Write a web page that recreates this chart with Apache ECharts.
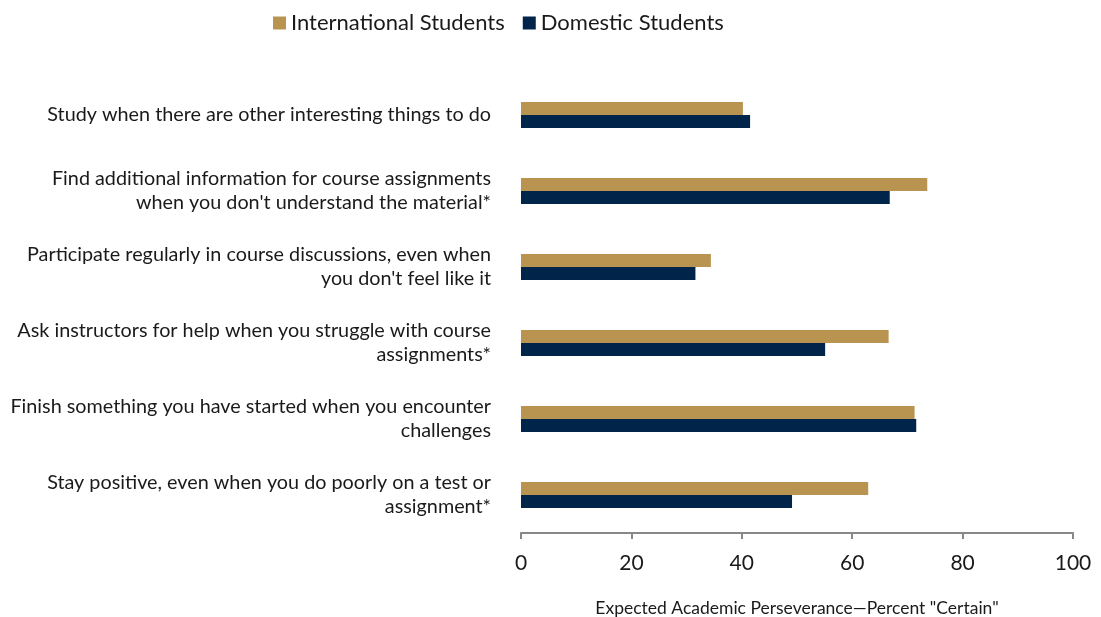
<!DOCTYPE html>
<html>
<head>
<meta charset="utf-8">
<title>Expected Academic Perseverance</title>
<script src="https://cdn.jsdelivr.net/npm/echarts@6/dist/echarts.min.js"></script>
<style>
  html, body { margin: 0; padding: 0; background: #fff; }
  #chart { width: 1101px; height: 617px; }
</style>
</head>
<body>
<div id="chart"></div>
<script>
// categories, top to bottom
var categories = [
  'Study when there are other interesting things to do',
  'Find additional information for course assignments\nwhen you don\'t understand the material*',
  'Participate regularly in course discussions, even when\nyou don\'t feel like it',
  'Ask instructors for help when you struggle with course\nassignments*',
  'Finish something you have started when you encounter\nchallenges',
  'Stay positive, even when you do poorly on a test or\nassignment*'
];
var international = [40.2, 73.6, 34.4, 66.6, 71.3, 62.9];
var domestic = [41.5, 66.8, 31.6, 55.1, 71.6, 49.1];
var xTicks = [0, 20, 40, 60, 80, 100];

var myChart = echarts.init(document.getElementById('chart'));
var font = 'Lato, "Open Sans", sans-serif';

var option = {
  animation: false,
  textStyle: { fontFamily: font },
  legend: {
    top: 7,
    left: 268,
    itemWidth: 13,
    itemHeight: 13,
    itemGap: 18,
    icon: 'rect',
    textStyle: { fontSize: 22, color: '#1a1a1a', fontFamily: font },
    data: ['International Students', 'Domestic Students']
  },
  grid: {
    left: 521,
    right: 28,
    top: 77,
    bottom: 84,
    containLabel: false,
    outerBoundsMode: 'none'
  },
  xAxis: {
    type: 'value',
    min: xTicks[0],
    max: xTicks[xTicks.length - 1],
    interval: 20,
    name: 'Expected Academic Perseverance\u2014Percent "Certain"',
    nameLocation: 'middle',
    nameGap: 66,
    nameTextStyle: { fontSize: 17.5, color: '#1a1a1a', fontFamily: font },
    axisLine: { show: true, lineStyle: { color: '#888', width: 2 } },
    axisTick: { show: true, length: 6, lineStyle: { color: '#888', width: 2 } },
    axisLabel: { fontSize: 21, color: '#1a1a1a', margin: 20, fontFamily: font },
    splitLine: { show: false }
  },
  yAxis: {
    type: 'category',
    inverse: true,
    data: categories,
    axisLine: { show: false },
    axisTick: { show: false },
    axisLabel: {
      fontSize: 19.8,
      color: '#1a1a1a',
      margin: 30,
      lineHeight: 24,
      align: 'right',
      fontFamily: font
    }
  },
  series: [
    {
      name: 'International Students',
      type: 'bar',
      data: international,
      barWidth: 13,
      barGap: '0%',
      itemStyle: { color: '#b99450' }
    },
    {
      name: 'Domestic Students',
      type: 'bar',
      data: domestic,
      barWidth: 13,
      barGap: '0%',
      itemStyle: { color: '#00244a' }
    }
  ]
};

myChart.setOption(option);
</script>
</body>
</html>
